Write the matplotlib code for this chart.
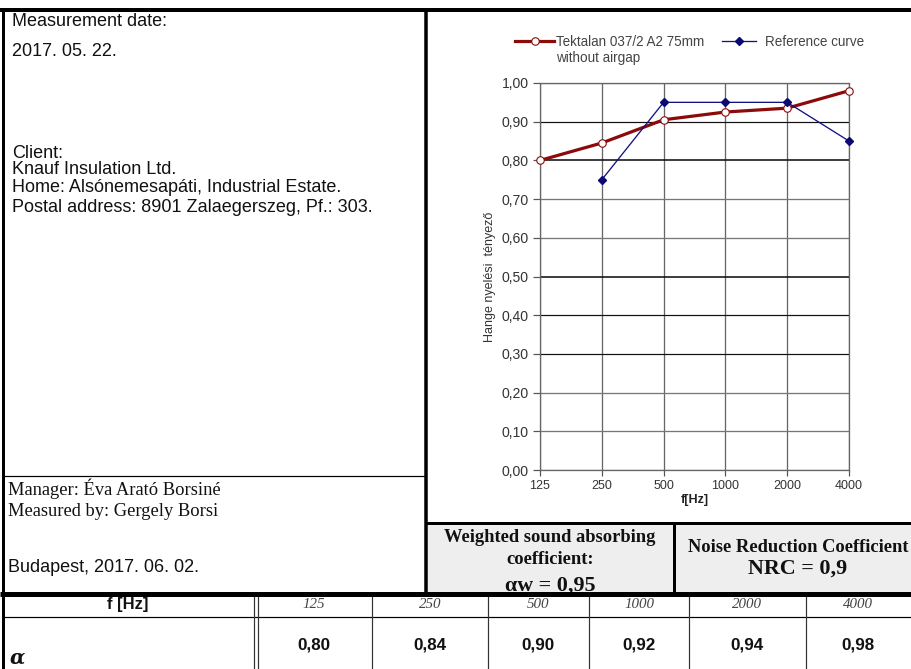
import matplotlib
matplotlib.use("Agg")
import matplotlib.pyplot as plt
from matplotlib.patches import Rectangle
from matplotlib.lines import Line2D

# ---------------- data ----------------
freq_labels = ["125", "250", "500", "1000", "2000", "4000"]
measured = [0.80, 0.845, 0.905, 0.925, 0.935, 0.98]
reference = [None, 0.75, 0.95, 0.95, 0.95, 0.85]
table_alpha = ["0,80", "0,84", "0,90", "0,92", "0,94", "0,98"]
y_ticks = [0.0, 0.1, 0.2, 0.3, 0.4, 0.5, 0.6, 0.7, 0.8, 0.9, 1.0]
series_names = ["Tektalan 037/2 A2 75mm", "Reference curve"]
series_name_extra = "without airgap"
alpha_w = "0,95"
nrc = "0,9"

W, H = 911, 669
DPI = 100
fig = plt.figure(figsize=(W / DPI, H / DPI), dpi=DPI)

def pt(px):
    return px * 72.0 / DPI

SANS = ["Liberation Sans", "DejaVu Sans"]
SERIF = ["Liberation Serif", "DejaVu Serif"]

# overlay in pixel coordinates
ov = fig.add_axes([0, 0, 1, 1])
ov.set_xlim(0, W)
ov.set_ylim(H, 0)
ov.axis("off")

def hline(y, x0, x1, lw, c="black", z=2):
    ov.plot([x0, x1], [y, y], color=c, lw=pt(lw), solid_capstyle="butt", zorder=z)

def vline(x, y0, y1, lw, c="black", z=2):
    ov.plot([x, x], [y0, y1], color=c, lw=pt(lw), solid_capstyle="butt", zorder=z)

# gray boxes
ov.add_patch(Rectangle((426, 523), W - 426, 593 - 523, facecolor="#eeeeee", edgecolor="none", zorder=0))

hline(10, 0, W, 4, z=6)
vline(3, 10, H, 3, z=6)
vline(426, 10, 593, 3.5, z=6)
hline(476, 3, 426, 1.2)
hline(523, 426, W, 3, z=6)
vline(674, 523, 593, 3, z=6)
hline(594, 0, W, 5, z=6)
hline(617, 3, W, 1.2)
for x in [254, 258, 372, 488, 589, 689, 806]:
    vline(x, 593, H, 1.2, "#333333")

# left panel texts
left_texts = [
    ("Measurement date:", 21),
    ("2017. 05. 22.", 51),
    ("Client:", 153),
    ("Knauf Insulation Ltd.", 170),
    ("Home: Alsónemesapáti, Industrial Estate.", 187),
    ("Postal address: 8901 Zalaegerszeg, Pf.: 303.", 208),
]
for s, y in left_texts:
    ov.text(12, y, s, fontsize=pt(18), family=SANS, va="center", ha="left", color="#111111")

ov.text(8, 489, "Manager: Éva Arató Borsiné", fontsize=pt(18.5), family=SERIF, va="center", color="#111111")
ov.text(8, 511, "Measured by: Gergely Borsi", fontsize=pt(18.5), family=SERIF, va="center", color="#111111")
ov.text(8, 567, "Budapest, 2017. 06. 02.", fontsize=pt(18), family=SANS, va="center", color="#111111")

# gray box texts
ov.text(550, 537, "Weighted sound absorbing", fontsize=pt(18.5), family=SERIF, weight="bold", ha="center", va="center", color="#111111")
ov.text(550, 559, "coefficient:", fontsize=pt(18.5), family=SERIF, weight="bold", ha="center", va="center", color="#111111")
ov.text(550, 586, "\u03b1w = " + alpha_w, fontsize=pt(22), family=SERIF, weight="bold", ha="center", va="center", color="#111111", zorder=3)
ov.text(798, 547, "Noise Reduction Coefficient", fontsize=pt(18.5), family=SERIF, weight="bold", ha="center", va="center", color="#111111")
ov.text(798, 569, "NRC = " + nrc, fontsize=pt(22), family=SERIF, weight="bold", ha="center", va="center", color="#111111")

# table
col_centers = [314, 430, 538, 639, 747, 858]
ov.text(128, 605, "f [Hz]", fontsize=pt(16.5), family=SANS, weight="bold", ha="center", va="center", color="#111111")
ov.text(10, 658, "\u03b1", fontsize=pt(20), family=["DejaVu Serif"], weight="bold", style="italic", ha="left", va="center", color="#111111")
for cx, f, a in zip(col_centers, freq_labels, table_alpha):
    ov.text(cx, 605, f, fontsize=pt(15), family=SERIF, style="italic", ha="center", va="center", color="#444444")
    ov.text(cx, 645, a, fontsize=pt(17), family=SANS, weight="bold", ha="center", va="center", color="#111111")

# ---------------- chart ----------------
L, R, T, B = 540, 849, 83, 470
ax = fig.add_axes([L / W, 1 - B / H, (R - L) / W, (B - T) / H])
x = list(range(len(freq_labels)))
ax.set_xlim(0, len(freq_labels) - 1)
ax.set_ylim(0, 1.0)

dark_rows = {0.3, 0.4, 0.5, 0.8, 0.9}
for yv in y_ticks:
    key = round(yv, 1)
    if key in dark_rows:
        ax.axhline(yv, color="#111111", lw=pt(1.6 if key in (0.5, 0.8) else 1.2), zorder=1)
    else:
        ax.axhline(yv, color="#777777", lw=pt(1.3), zorder=1)
ax.grid(axis="x", color="#666666", lw=pt(1.3), zorder=1)
ax.set_axisbelow(True)
for s in ax.spines.values():
    s.set_color("#666666")
    s.set_linewidth(pt(1.3))

ref_x = [xi for xi, v in zip(x, reference) if v is not None]
ref_y = [v for v in reference if v is not None]
l1, = ax.plot(x, measured, color="#8b0a0a", lw=pt(3.2), marker="o", ms=pt(7.5),
              mfc="white", mec="#8b0a0a", mew=pt(1.1), zorder=3, clip_on=False)
l2, = ax.plot(ref_x, ref_y, color="#101080", lw=pt(1.3), marker="D", ms=pt(6),
              mfc="#0a0a70", mec="#0a0a70", zorder=4, clip_on=False)

ax.set_xticks(x)
ax.set_xticklabels(freq_labels)
ax.set_yticks(y_ticks)
ax.set_yticklabels([f"{v:.2f}".replace(".", ",") for v in y_ticks])
ax.tick_params(axis="y", direction="out", length=pt(7), width=pt(1.2), color="#555555",
               pad=pt(4), labelsize=pt(14), labelcolor="#333333")
ax.tick_params(axis="x", direction="out", length=pt(6), width=pt(1.2), color="#555555",
               pad=pt(4), labelsize=pt(12.5), labelcolor="#333333")
for lab in ax.get_xticklabels() + ax.get_yticklabels():
    lab.set_family(SANS)

ax.set_xlabel("f[Hz]", fontsize=pt(12.5), family=SANS, weight="bold", color="#222222", labelpad=pt(2))
ax.set_ylabel("Hange nyelési  tényező", fontsize=pt(12.5), family=SANS, color="#333333", labelpad=pt(6))

blank = Line2D([], [], alpha=0)
leg1 = ax.legend([l1, blank], [series_names[0], series_name_extra], loc="upper left",
                 bbox_to_anchor=((515 - L) / (R - L), (B - 35) / (B - T)),
                 frameon=False, prop={"family": SANS, "size": pt(13.5)}, handlelength=2.9,
                 handletextpad=0.15, labelcolor="#444444", borderaxespad=0, borderpad=0,
                 labelspacing=0.15)
ax.add_artist(leg1)
leg2 = ax.legend([l2], [series_names[1]], loc="upper left",
                 bbox_to_anchor=((722 - L) / (R - L), (B - 35) / (B - T)),
                 frameon=False, prop={"family": SANS, "size": pt(13.5)}, handlelength=2.5,
                 handletextpad=0.7, labelcolor="#444444", borderaxespad=0, borderpad=0)

fig.savefig("out.png", dpi=DPI)
